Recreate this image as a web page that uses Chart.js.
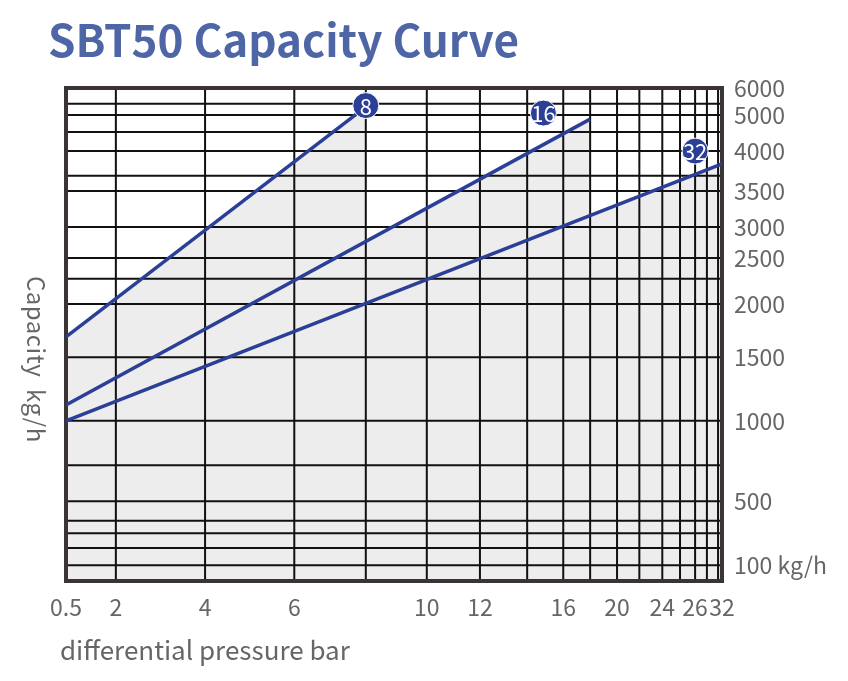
<!DOCTYPE html>
<html>
<head>
<meta charset="utf-8">
<script src="https://cdn.jsdelivr.net/npm/chart.js@4.4.0/dist/chart.umd.min.js"></script>
<style>
  body { margin: 0; background: #fff; font-family: "Noto Sans CJK SC", "Noto Sans", sans-serif; }
  #wrap { position: relative; width: 848px; height: 681px; }
  #title { position: absolute; left: 48px; top: 6px; font-size: 44px; font-weight: bold; color: #4f66a6; }
  #ytitle { position: absolute; left: 20px; top: 276px; font-size: 24px; color: #666; writing-mode: vertical-rl; letter-spacing: 0.5px; }
  #xtitle { position: absolute; left: 60px; top: 630px; font-size: 26px; color: #666; }
</style>
</head>
<body>
<div id="wrap">
  <canvas id="c" width="848" height="681"></canvas>
  <div id="title">SBT50 Capacity Curve</div>
  <div id="ytitle">Capacity&nbsp;&nbsp;kg/h</div>
  <div id="xtitle">differential pressure bar</div>
</div>
<script>
// --- Axis definitions (non-uniform printed grid) ---
// pressure values of the vertical grid lines and their place on the axis (0..100)
const xGridVals = [0.5, 2, 4, 6, 8, 10, 12, 14, 16, 18, 20, 22, 24, 25, 26, 28, 30, 32];
const xGridPos  = [0, 7.6, 21.2, 34.8, 45.7, 55.0, 63.1, 70.3, 75.8, 79.9, 84.0, 87.4, 90.9, 93.6, 95.9, 97.7, 99.4, 100];
const xTickVals = [0.5, 2, 4, 6, 10, 12, 16, 20, 24, 26, 32];
const xTickLabels = ['0.5', '2', '4', '6', '10', '12', '16', '20', '24', '26', '32'];

// capacity values of the horizontal grid lines and their place on the axis (0..100)
const yGridVals = [0, 100, 200, 300, 400, 500, 750, 1000, 1500, 2000, 2250, 2500, 3000, 3500, 3750, 4000, 4500, 5000, 5500, 6000];
const yGridPos  = [0, 3.2, 6.7, 9.7, 12.2, 16.2, 23.5, 32.5, 45.4, 56.2, 61.3, 65.5, 71.8, 79.1, 82.2, 87.2, 91.1, 94.5, 96.8, 100];
const yTickVals = [100, 500, 1000, 1500, 2000, 2500, 3000, 3500, 4000, 5000, 6000];
const yTickLabels = ['100 kg/h', '500', '1000', '1500', '2000', '2500', '3000', '3500', '4000', '5000', '6000'];

// --- Curves: [pressure bar, capacity kg/h] ---
const curve8  = [[0.5, 1690], [8, 5360]];
const curve16 = [[0.5, 1125], [18, 4880]];
const curve32 = [[0.5, 1000], [32, 3870]];
const markerNames = ['8', '16', '32'];
const markerPts = [[8, 5420], [14.9, 5090], [26, 4000]];

function interp(v, vals, pos) {
  for (let i = 0; i < vals.length - 1; i++) {
    if (v <= vals[i + 1]) {
      const t = (v - vals[i]) / (vals[i + 1] - vals[i]);
      return pos[i] + t * (pos[i + 1] - pos[i]);
    }
  }
  return pos[pos.length - 1];
}
const mx = v => interp(v, xGridVals, xGridPos);
const my = v => interp(v, yGridVals, yGridPos);
const toXY = arr => arr.map(p => ({ x: mx(p[0]), y: my(p[1]) }));

const blue = '#2b3f96';
const fillGray = '#ededed';
const font = '"Noto Sans CJK SC", "Noto Sans", sans-serif';

function fillSet(c) {
  return { data: toXY(c), borderWidth: 0, pointRadius: 0, fill: 'origin', backgroundColor: fillGray, order: 3 };
}
function lineSet(c) {
  return { data: toXY(c), borderColor: blue, borderWidth: 3.5, pointRadius: 0, fill: false, order: 1 };
}

const gridPlugin = {
  id: 'grid',
  afterDatasetDraw(chart, args) {
    if (args.index !== 0) return;
    const { ctx, chartArea: a, scales: { x, y } } = chart;
    ctx.save();
    ctx.strokeStyle = '#111';
    ctx.lineWidth = 2;
    ctx.beginPath();
    xGridPos.forEach(p => { const px = x.getPixelForValue(p); ctx.moveTo(px, a.top); ctx.lineTo(px, a.bottom); });
    yGridPos.forEach(p => { const py = y.getPixelForValue(p); ctx.moveTo(a.left, py); ctx.lineTo(a.right, py); });
    ctx.stroke();
    ctx.strokeStyle = '#3a3434';
    ctx.lineWidth = 4;
    ctx.strokeRect(a.left, a.top, a.right - a.left, a.bottom - a.top);
    ctx.restore();
  },
  afterDatasetsDraw(chart) {
    const { ctx } = chart;
    const meta = chart.getDatasetMeta(6);
    ctx.save();
    ctx.fillStyle = '#fff';
    ctx.font = '22px ' + font;
    ctx.textAlign = 'center';
    ctx.textBaseline = 'middle';
    meta.data.forEach((pt, i) => ctx.fillText(markerNames[i], pt.x, pt.y + 1));
    ctx.restore();
  }
};

new Chart(document.getElementById('c'), {
  type: 'line',
  data: {
    datasets: [
      fillSet(curve8), fillSet(curve16), fillSet(curve32),
      lineSet(curve8), lineSet(curve16), lineSet(curve32),
      { data: toXY(markerPts), showLine: false, pointRadius: 13, pointHoverRadius: 13,
        pointBackgroundColor: blue, pointBorderColor: '#fff', pointBorderWidth: 1, order: 0 }
    ]
  },
  options: {
    responsive: false,
    animation: false,
    events: [],
    layout: { padding: { left: 66, top: 88, right: 0, bottom: 0 } },
    plugins: { legend: { display: false }, tooltip: { enabled: false } },
    scales: {
      x: {
        type: 'linear', min: 0, max: 100,
        grid: { display: false }, border: { display: false },
        afterFit: s => { s.height = 100; },
        afterBuildTicks: s => { s.ticks = xTickVals.map(v => ({ value: mx(v) })); },
        ticks: {
          autoSkip: false, maxRotation: 0, padding: 4, color: '#666',
          font: { size: 23, family: font },
          callback: (v, i) => xTickLabels[i]
        }
      },
      y: {
        type: 'linear', position: 'right', min: 0, max: 100,
        grid: { display: false }, border: { display: false },
        afterFit: s => { s.width = 126; },
        afterBuildTicks: s => { s.ticks = yTickVals.map(v => ({ value: my(v) })); },
        ticks: {
          autoSkip: false, padding: 4, color: '#666',
          font: { size: 23, family: font },
          callback: (v, i) => yTickLabels[i]
        }
      }
    }
  },
  plugins: [gridPlugin]
});
</script>
</body>
</html>
